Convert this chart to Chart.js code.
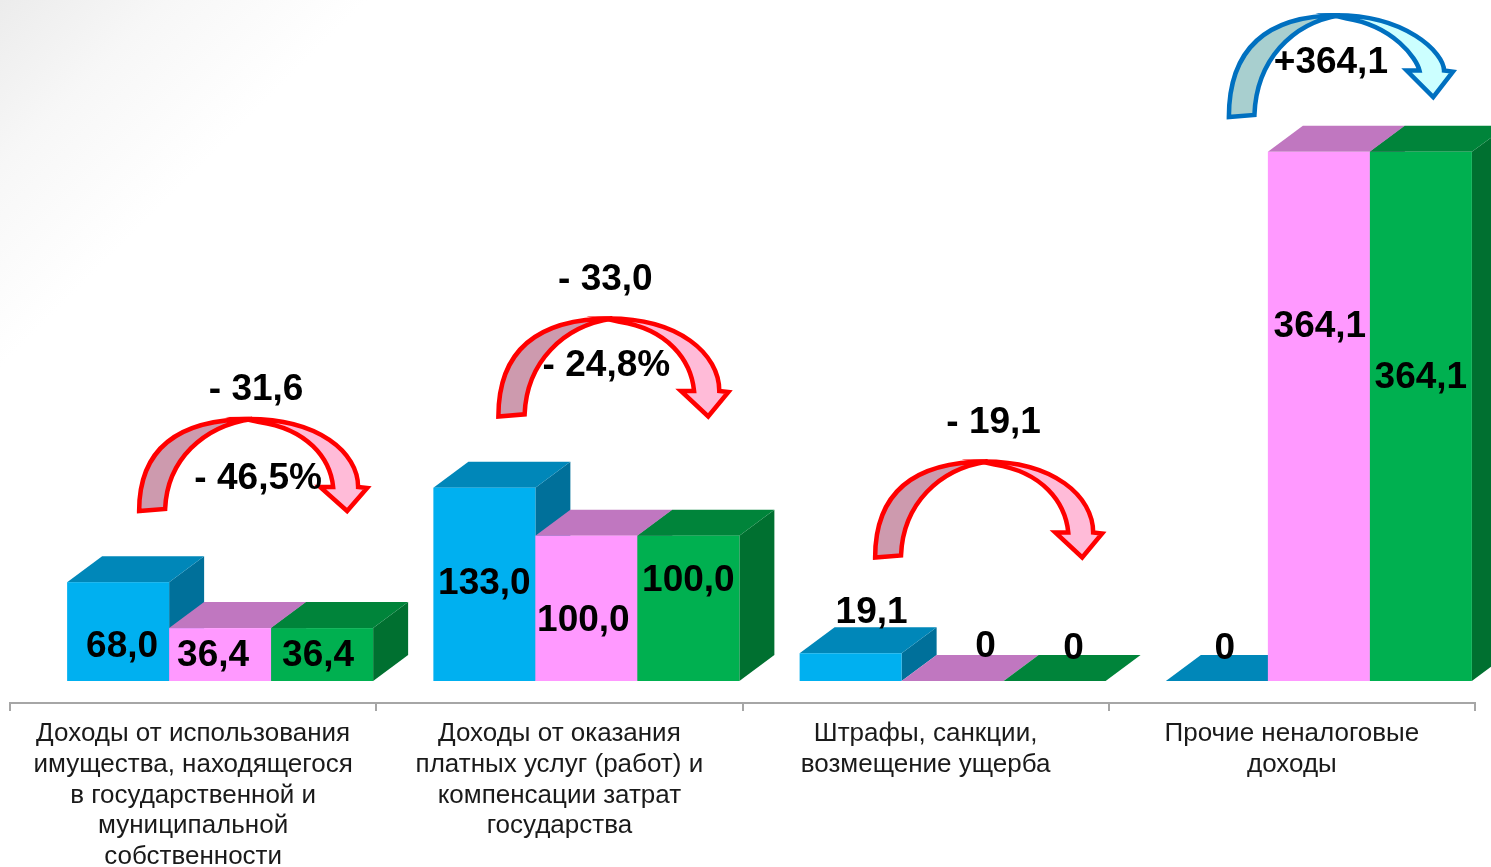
<!DOCTYPE html>
<html lang="ru">
<head>
<meta charset="utf-8">
<script src="https://cdn.jsdelivr.net/npm/chart.js@4.4.1/dist/chart.umd.min.js"></script>
<style>
  html, body { margin: 0; padding: 0; }
  body {
    width: 1491px; height: 867px; overflow: hidden;
    background: linear-gradient(135deg, #ececec 0px, #f7f7f7 120px, #ffffff 260px);
  }
  canvas { display: block; }
</style>
</head>
<body>
<canvas id="grafico" width="1491" height="867"></canvas>
<script>
// --- DATOS ---
const categorias = [
    ['Доходы от использования', 'имущества, находящегося', 'в государственной и', 'муниципальной', 'собственности'],
    ['Доходы от оказания', 'платных услуг (работ) и', 'компенсации затрат', 'государства'],
    ['Штрафы, санкции,', 'возмещение ущерба'],
    ['Прочие неналоговые', 'доходы']
];
const serieAzul = [68.0, 133.0, 19.1, 0];
const serieRosa = [36.4, 100.0, 0, 364.1];
const serieVerde = [36.4, 100.0, 0, 364.1];

// colores de cada serie: frente, tapa, lado
const colores3d = [
    { frente: '#00b0f0', tapa: '#0087b9', lado: '#00709a' },
    { frente: '#ff99ff', tapa: '#c077c0', lado: '#a35ca3' },
    { frente: '#00b050', tapa: '#00843a', lado: '#007030' }
];
const PROF_X = 35, PROF_Y = 26, DESPLAZ = 27;

// desplazamiento de las etiquetas [dx, dy] respecto al centro del frente
const offsetsEtiquetas = [
    [[4, 15], [0, -1], [21, -54], [8, -32]],
    [[-7, 1], [-3, 12], [33, -34], [1, -90]],
    [[-4, 1], [0, -28], [19, -32], [0, -39]]
];

// flechas: categoria, dx desde el centro, base (valor del eje), tamaño, textos
const flechas = [
    { cat: 0, dx: 60, base: 117, w: 228, h: 93, tipo: 'roja', alza: 0, txt: [3, -28], pct: [5, 61] },
    { cat: 1, dx: 54, base: 182, w: 230, h: 99, tipo: 'roja', alza: 0, txt: [-8, -38], pct: [-7, 48] },
    { cat: 2, dx: 63, base: 85, w: 227, h: 97, tipo: 'roja', alza: 0, txt: [5, -38], pct: null },
    { cat: 3, dx: 49, base: 388, w: 224, h: 103, tipo: 'azul', alza: 20, txt: [-10, 49], pct: null }
];
const estilosFlecha = {
    roja: { borde: '#ff0000', izq: '#cd9aae', der: '#ffbbd8' },
    azul: { borde: '#0070c0', izq: '#a8cfcf', der: '#ccffff' }
};

const FUENTE_NEGRITA = 'bold 37px "Liberation Sans", Arial, sans-serif';

function formatoNum(v) {
    if (v === 0) return '0';
    return v.toFixed(1).replace('.', ',');
}

function poligono(ctx, pts, color) {
    ctx.beginPath();
    ctx.moveTo(pts[0][0], pts[0][1]);
    for (let i = 1; i < pts.length; i++) ctx.lineTo(pts[i][0], pts[i][1]);
    ctx.closePath();
    ctx.fillStyle = color;
    ctx.fill();
}

// ================= BARRAS 3D =================
const barras3d = {
    id: 'barras3d',
    afterDatasetsDraw(chart) {
        const ctx = chart.ctx;
        const n = chart.data.labels.length;
        ctx.save();
        for (let i = 0; i < n; i++) {
            chart.data.datasets.forEach((ds, d) => {
                const el = chart.getDatasetMeta(d).data[i];
                const c = colores3d[d];
                const x0 = el.x - el.width / 2 + DESPLAZ;
                const x1 = x0 + el.width;
                const yt = el.y, yb = el.base;
                if (yb - yt > 0.5) {
                    poligono(ctx, [[x1, yt], [x1 + PROF_X, yt - PROF_Y], [x1 + PROF_X, yb - PROF_Y], [x1, yb]], c.lado);
                }
                poligono(ctx, [[x0, yt], [x1, yt], [x1 + PROF_X, yt - PROF_Y], [x0 + PROF_X, yt - PROF_Y]], c.tapa);
                if (yb - yt > 0.5) {
                    ctx.fillStyle = c.frente;
                    ctx.fillRect(x0, yt, el.width, yb - yt);
                }
            });
        }
        // etiquetas de valor
        ctx.font = FUENTE_NEGRITA;
        ctx.fillStyle = '#000';
        ctx.textAlign = 'center';
        ctx.textBaseline = 'middle';
        chart.data.datasets.forEach((ds, d) => {
            chart.getDatasetMeta(d).data.forEach((el, i) => {
                const off = offsetsEtiquetas[d][i];
                const cx = el.x + DESPLAZ + off[0];
                const cy = (el.y + el.base) / 2 + off[1];
                ctx.fillText(formatoNum(ds.data[i]), cx, cy);
            });
        });
        ctx.restore();
    }
};

// ================= FLECHAS CURVAS =================
function dibujarFlecha(ctx, L, T, w, h, est, alza) {
    const sx = w / 228, sy = h / 93;
    const p = (x, y) => [L + x * sx, T + y * sy];
    // la punta puede quedar más alta que la cola
    const q = (x, y) => [L + x * sx, T + y * sy - alza];
    ctx.save();
    ctx.lineWidth = 4.5;
    ctx.lineJoin = 'miter';
    ctx.strokeStyle = est.borde;

    // banda izquierda (oscura)
    ctx.beginPath();
    ctx.moveTo(...p(0, 93));
    ctx.bezierCurveTo(...p(0, 30), ...p(40, 1), ...p(113, 1));
    ctx.bezierCurveTo(...p(64, 8), ...p(28, 42), ...p(26, 91));
    ctx.closePath();
    ctx.fillStyle = est.izq;
    ctx.fill();
    ctx.stroke();

    // banda derecha con punta (clara)
    ctx.beginPath();
    ctx.moveTo(...p(106, 1));
    ctx.bezierCurveTo(...p(180, 0), ...q(219, 35 + alza / sy), ...q(219, 69));
    ctx.lineTo(...q(228, 70));
    ctx.lineTo(...q(208, 93));
    ctx.lineTo(...q(181, 69));
    ctx.lineTo(...q(194, 69));
    ctx.bezierCurveTo(...q(191, 40 + alza / sy), ...p(168, 11), ...p(120, 4));
    ctx.closePath();
    ctx.fillStyle = est.der;
    ctx.fill();
    ctx.stroke();
    ctx.restore();
}

const flechasPlugin = {
    id: 'flechas',
    afterDraw(chart) {
        const ctx = chart.ctx;
        const xS = chart.scales.x, yS = chart.scales.y;
        flechas.forEach(f => {
            const cx = xS.getPixelForValue(f.cat) + f.dx;
            const bottom = yS.getPixelForValue(f.base);
            const L = cx - f.w / 2, T = bottom - f.h;
            dibujarFlecha(ctx, L, T, f.w, f.h, estilosFlecha[f.tipo], f.alza);

            const ini = serieAzul[f.cat], fin = serieVerde[f.cat];
            const dif = fin - ini;
            const txt = (dif > 0 ? '+' : '- ') + Math.abs(dif).toFixed(1).replace('.', ',');
            ctx.save();
            ctx.font = FUENTE_NEGRITA;
            ctx.fillStyle = '#000';
            ctx.textAlign = 'center';
            ctx.textBaseline = 'middle';
            ctx.fillText(txt, cx + f.txt[0], T + f.txt[1]);
            if (f.pct && ini > 0 && fin > 0) {
                const pct = (fin / ini - 1) * 100;
                ctx.fillText('- ' + Math.abs(pct).toFixed(1).replace('.', ',') + '%', cx + f.pct[0], T + f.pct[1]);
            }
            ctx.restore();
        });
    }
};

// ================= GRÁFICO =================
const ctxGrafico = document.getElementById('grafico').getContext('2d');
new Chart(ctxGrafico, {
    type: 'bar',
    data: {
        labels: categorias,
        datasets: [
            { label: 'Azul', data: serieAzul, backgroundColor: 'rgba(0,0,0,0)' },
            { label: 'Rosa', data: serieRosa, backgroundColor: 'rgba(0,0,0,0)' },
            { label: 'Verde', data: serieVerde, backgroundColor: 'rgba(0,0,0,0)' }
        ]
    },
    options: {
        responsive: false,
        animation: false,
        devicePixelRatio: 1,
        layout: { padding: { left: 10, right: 16, top: 27, bottom: 0 } },
        datasets: { bar: { categoryPercentage: 0.8355, barPercentage: 1 } },
        plugins: { legend: { display: false }, tooltip: { enabled: false } },
        scales: {
            y: { display: false, min: -15.14, max: 450 },
            x: {
                afterFit(scale) { scale.height = 164; },
                border: { color: '#a6a6a6', width: 2 },
                grid: { drawOnChartArea: false, color: '#a6a6a6', lineWidth: 2, tickLength: 8, offset: true },
                ticks: {
                    color: '#1a1a1a',
                    padding: 7,
                    maxRotation: 0,
                    autoSkip: false,
                    font: { family: '"Liberation Sans", Arial, sans-serif', size: 26, lineHeight: 1.19 }
                }
            }
        }
    },
    plugins: [barras3d, flechasPlugin]
});
</script>
</body>
</html>
